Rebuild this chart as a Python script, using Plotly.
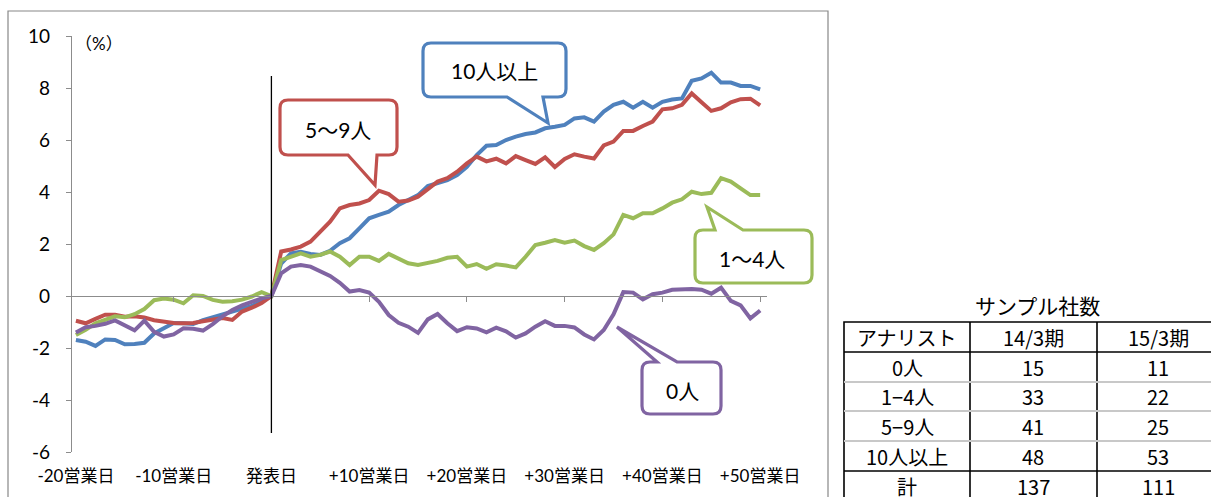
import plotly.graph_objects as go

W, H = 1211, 497

# ---------------- data ----------------
days = list(range(-20, 51))
tick_days = [-20, -10, 0, 10, 20, 30, 40, 50]
tick_labels = ["-20営業日", "-10営業日", "発表日", "+10営業日", "+20営業日",
               "+30営業日", "+40営業日", "+50営業日"]
y_ticks = [-6, -4, -2, 0, 2, 4, 6, 8, 10]
y_tick_labels = ["-6", "-4", "-2", "0", "2", "4", "6", "8", "10"]

s_10plus = [-1.69, -1.76, -1.92, -1.67, -1.69, -1.86, -1.85, -1.80, -1.44, -1.22,
            -1.04, -1.05, -1.08, -0.93, -0.82, -0.73, -0.63, -0.50, -0.38, -0.22, 0.0,
            1.25, 1.64, 1.70, 1.62, 1.58, 1.74, 2.03, 2.22, 2.60, 2.99,
            3.12, 3.24, 3.50, 3.67, 3.88, 4.23, 4.33, 4.46, 4.65, 4.97,
            5.42, 5.78, 5.81, 6.00, 6.13, 6.23, 6.29, 6.45, 6.51, 6.58,
            6.83, 6.87, 6.71, 7.09, 7.35, 7.47, 7.24, 7.47, 7.24, 7.47,
            7.56, 7.60, 8.28, 8.37, 8.59, 8.21, 8.21, 8.08, 8.08, 7.95]
s_5to9 = [-0.95, -1.05, -0.88, -0.72, -0.72, -0.80, -0.78, -0.83, -0.93, -1.00,
          -1.04, -1.05, -1.04, -0.97, -0.92, -0.85, -0.92, -0.60, -0.45, -0.27, 0.0,
          1.71, 1.79, 1.90, 2.09, 2.47, 2.86, 3.37, 3.50, 3.56, 3.69,
          4.05, 3.92, 3.63, 3.67, 3.82, 4.10, 4.40, 4.53, 4.78, 5.10,
          5.36, 5.18, 5.28, 5.10, 5.38, 5.23, 5.08, 5.33, 4.96, 5.27,
          5.45, 5.36, 5.29, 5.79, 5.94, 6.35, 6.35, 6.54, 6.71, 7.18,
          7.22, 7.35, 7.79, 7.45, 7.12, 7.22, 7.45, 7.57, 7.59, 7.33]
s_1to4 = [-1.50, -1.30, -1.05, -0.92, -0.78, -0.82, -0.70, -0.50, -0.16, -0.10,
          -0.14, -0.28, 0.03, 0.00, -0.15, -0.22, -0.20, -0.14, -0.02, 0.15, 0.0,
          1.38, 1.51, 1.64, 1.51, 1.58, 1.71, 1.51, 1.19, 1.51, 1.51,
          1.35, 1.62, 1.45, 1.26, 1.19, 1.26, 1.35, 1.47, 1.51, 1.13,
          1.23, 1.05, 1.22, 1.17, 1.10, 1.51, 1.96, 2.05, 2.15, 2.05,
          2.13, 1.92, 1.77, 2.03, 2.37, 3.12, 2.99, 3.18, 3.18, 3.37,
          3.59, 3.72, 4.01, 3.92, 3.97, 4.53, 4.40, 4.14, 3.88, 3.88]
s_0 = [-1.40, -1.20, -1.15, -1.07, -0.94, -1.14, -1.32, -0.95, -1.38, -1.56,
       -1.48, -1.24, -1.26, -1.33, -1.08, -0.78, -0.54, -0.36, -0.22, -0.09, 0.0,
       0.87, 1.13, 1.19, 1.13, 0.97, 0.77, 0.51, 0.17, 0.23, 0.13,
       -0.22, -0.73, -1.03, -1.18, -1.42, -0.90, -0.69, -1.05, -1.35, -1.20,
       -1.25, -1.40, -1.22, -1.36, -1.60, -1.44, -1.18, -0.97, -1.15, -1.15,
       -1.21, -1.48, -1.67, -1.31, -0.70, 0.15, 0.13, -0.13, 0.07, 0.13,
       0.24, 0.27, 0.27, 0.24, 0.09, 0.32, -0.19, -0.36, -0.86, -0.56]

series_names = ["10人以上", "5〜9人", "1〜4人", "0人"]
series_values = [s_10plus, s_5to9, s_1to4, s_0]
series_colors = ["#4F81BD", "#C0504D", "#9BBB59", "#8064A2"]

table_title = "サンプル社数"
table_header = ["アナリスト", "14/3期", "15/3期"]
table_rows = ["0人", "1−4人", "5−9人", "10人以上", "計"]
table_1403 = [15, 33, 41, 48, 137]
table_1503 = [11, 22, 25, 53, 111]

# ---------------- helpers ----------------
def px(x):
    return x / W

def py(y):
    return 1 - y / H

def P(x, y):
    return f"{px(x):.5f},{py(y):.5f}"

def callout(x0, y0, x1, y1, a, tip, b, side, r=8):
    pts = []
    pts.append("M" + P(x0 + r, y0))
    if side == "top":
        pts += ["L" + P(a, y0), "L" + P(*tip), "L" + P(b, y0)]
    pts.append("L" + P(x1 - r, y0))
    pts.append("Q" + P(x1, y0) + " " + P(x1, y0 + r))
    pts.append("L" + P(x1, y1 - r))
    pts.append("Q" + P(x1, y1) + " " + P(x1 - r, y1))
    if side == "bottom":
        pts += ["L" + P(b, y1), "L" + P(*tip), "L" + P(a, y1)]
    pts.append("L" + P(x0 + r, y1))
    pts.append("Q" + P(x0, y1) + " " + P(x0, y1 - r))
    pts.append("L" + P(x0, y0 + r))
    pts.append("Q" + P(x0, y0) + " " + P(x0 + r, y0))
    pts.append("Z")
    return " ".join(pts)

FONT = "Lato, 'Noto Sans CJK JP', sans-serif"
CJK = "'Noto Sans CJK JP', sans-serif"

fig = go.Figure()
for name, vals, col in zip(series_names, series_values, series_colors):
    fig.add_trace(go.Scatter(x=days, y=vals, mode="lines", name=name,
                             line=dict(color=col, width=4), xaxis="x", yaxis="y",
                             hoverinfo="skip"))
# empty trace registering the label axis (x2)
fig.add_trace(go.Scatter(x=days, y=[None] * len(days), mode="lines", xaxis="x2", yaxis="y",
                         hoverinfo="skip", showlegend=False))

shapes = []
annotations = []

# outer chart border
shapes.append(dict(type="rect", xref="paper", yref="paper",
                   x0=px(8), x1=px(828), y0=py(510), y1=py(11),
                   line=dict(color="#888888", width=1.2), layer="below"))

# vertical announcement line
shapes.append(dict(type="line", xref="x", yref="y", x0=0, x1=0, y0=-5.27, y1=8.46,
                   line=dict(color="black", width=1.3)))

callouts = [
    (423, 43, 566, 97, 507, (548, 123), 543, "bottom", series_colors[0], "10人以上", (494, 71)),
    (280, 100, 397, 155, 348, (375, 185), 377, "bottom", series_colors[1], "5〜9人", (338, 130)),
    (695, 230, 812, 283, 715, (707, 207), 743, "top", series_colors[2], "1〜4人", (752, 258)),
    (642, 362, 721, 414, 657, (617, 327), 677, "top", series_colors[3], "0人", (682, 390)),
]
for x0, y0, x1, y1, a, tip, b, side, col, txt, (tx, ty) in callouts:
    shapes.append(dict(type="path", xref="paper", yref="paper",
                       path=callout(x0, y0, x1, y1, a, tip, b, side),
                       line=dict(color=col, width=3.2), fillcolor="white", layer="above"))
    annotations.append(dict(xref="paper", yref="paper", x=px(tx), y=py(ty), text=txt,
                            showarrow=False, font=dict(family=FONT, size=21, color="black"),
                            xanchor="center", yanchor="middle"))

# unit label
annotations.append(dict(xref="paper", yref="paper", x=px(99), y=py(43), text="（%）",
                        showarrow=False, font=dict(family=FONT, size=17, color="black"),
                        xanchor="center", yanchor="middle"))

# ---------------- table ----------------
tx0, tx1 = 844, 1240
col_x = [844, 970, 1097, 1240]
col_c = [907, 1033, 1158]
row_y = [322, 352, 382, 411, 441, 471, 501]
shapes.append(dict(type="rect", xref="paper", yref="paper", x0=px(tx0), x1=px(tx1),
                   y0=py(row_y[-1]), y1=py(row_y[0]), line=dict(color="black", width=1.6)))
for cx in col_x[1:3]:
    shapes.append(dict(type="line", xref="paper", yref="paper", x0=px(cx), x1=px(cx),
                       y0=py(row_y[-1]), y1=py(row_y[0]), line=dict(color="black", width=1.6)))
for i, ry in enumerate(row_y[1:-1], start=1):
    heavy = i in (1, 5)
    shapes.append(dict(type="line", xref="paper", yref="paper", x0=px(tx0), x1=px(tx1),
                       y0=py(ry), y1=py(ry),
                       line=dict(color="black" if heavy else "#C8C8C8",
                                 width=1.6 if heavy else 2.2)))

annotations.append(dict(xref="paper", yref="paper", x=px(1037), y=py(305), text=table_title,
                        showarrow=False, font=dict(family=CJK, size=21, color="black"),
                        xanchor="center", yanchor="middle"))
cells = [table_header] + [[r, str(a), str(b)] for r, a, b in zip(table_rows, table_1403, table_1503)]
for ri, row in enumerate(cells):
    cy = (row_y[ri] + row_y[ri + 1]) / 2
    for ci, txt in enumerate(row):
        annotations.append(dict(xref="paper", yref="paper", x=px(col_c[ci]), y=py(cy),
                                text=txt, showarrow=False,
                                font=dict(family=CJK, size=20, color="black"),
                                xanchor="center", yanchor="middle"))

# ---------------- layout ----------------
x_dom = [px(72), px(767)]
y_dom = [py(452), py(36)]
x_range = [-20.4, 50.7]
y_range = [-6, 10]
zero_pos = y_dom[0] + (0 - y_range[0]) / (y_range[1] - y_range[0]) * (y_dom[1] - y_dom[0])

fig.update_layout(
    width=W, height=H,
    margin=dict(l=0, r=0, t=0, b=0, autoexpand=False),
    paper_bgcolor="white", plot_bgcolor="white",
    showlegend=False,
    shapes=shapes, annotations=annotations,
    xaxis=dict(domain=x_dom, range=x_range, anchor="free", position=zero_pos, automargin=False,
               showgrid=False, zeroline=False, showline=True, linecolor="#8C8C8C", linewidth=1.3,
               ticks="outside", ticklen=5, tickcolor="#8C8C8C", tickwidth=1.3,
               tickvals=tick_days[1:], showticklabels=False),
    xaxis2=dict(domain=x_dom, range=x_range, overlaying="x", anchor="free", position=y_dom[0],
                automargin=False, side="bottom", showgrid=False, zeroline=False, showline=False,
                ticks="", tickvals=tick_days, ticktext=tick_labels, ticklabelstandoff=12,
                tickfont=dict(family=FONT, size=17, color="black")),
    yaxis=dict(domain=y_dom, range=y_range, tickvals=y_ticks, ticktext=y_tick_labels,
               automargin=False, showgrid=False, zeroline=False,
               showline=True, linecolor="#8C8C8C", linewidth=1.3,
               ticks="outside", ticklen=5, tickcolor="#8C8C8C", tickwidth=1.3,
               ticklabelstandoff=12, tickfont=dict(family=FONT, size=19, color="black")),
)

fig.write_html("out.html")
